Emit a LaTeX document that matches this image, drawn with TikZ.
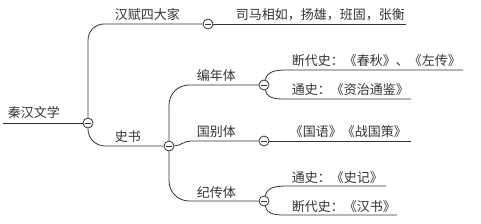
\documentclass[tikz,border=0pt]{standalone}
\usepackage{fontspec}
\setmainfont{Noto Sans CJK SC}
\usetikzlibrary{positioning,calc}
\definecolor{mapink}{HTML}{333333}
\tikzset{every picture/.append style={color=mapink}}

\begin{document}
\begin{tikzpicture}[
  x=1pt, y=-1pt,
  every path/.style={line width=0.8pt},
  fold/.style={draw, circle, line width=0.8pt, fill=white,
               minimum size=10pt, inner sep=0pt,
               path picture={\draw[line width=0.8pt]
                 ([xshift=-2.6pt]path picture bounding box.center) --
                 ([xshift=2.6pt]path picture bounding box.center);}},
  topic/.style={anchor=base west, inner sep=0pt,
                font=\fontsize{13}{15}\selectfont},
]
\useasboundingbox (0,0) rectangle (481,224);

% --- Root ---
\coordinate (rootL) at (3,123);
\node[fold] (root) at (88,123) {};
\node[topic] (tRoot) at (7.5,118) {秦汉文学};
\draw (rootL) -- (root.west);

% --- Branch: 汉赋四大家 ---
\node[fold] (fu) at (208,24) {};
\node[topic] (tFu) at (114.5,20) {汉赋四大家};
\draw[rounded corners=16pt] (root.north) |- (fu.west);
\coordinate (fuEnd) at (406,24);
\node[topic] (tFuLeaf) at (235.5,20) {司马相如，扬雄，班固，张衡};
\draw (fu.east) -- (fuEnd);

% --- Branch: 史书 ---
\node[fold] (shi) at (169,146) {};
\node[topic] (tShi) at (114.5,142) {史书};
\draw[rounded corners=17pt] (root.south) |- (shi.west);

% 编年体
\node[fold] (bian) at (264,85) {};
\node[topic] (tBian) at (196.5,81) {编年体};
\draw[rounded corners=20pt] (shi.north) |- (bian.west);
\coordinate (bianA) at (288,70);
\coordinate (bianAEnd) at (463,70);
\coordinate (bianB) at (288,99);
\coordinate (bianBEnd) at (411,99);
\node[topic] (tBianA) at (291.5,66) {断代史：《春秋》、《左传》};
\node[topic] (tBianB) at (291.5,95) {通史：《资治通鉴》};
\draw (bian.75) to[out=80,in=180] (bianA) -- (bianAEnd);
\draw (bian.-75) to[out=-80,in=180] (bianB) -- (bianBEnd);

% 国别体
\node[fold] (guo) at (264,141) {};
\node[topic] (tGuo) at (196.5,137) {国别体};
\coordinate (guoIn) at (191,141);
\draw (shi.east) to[out=5,in=180] (guoIn) -- (guo.west);
\coordinate (guoEnd) at (411,141);
\node[topic] (tGuoLeaf) at (289.5,137) {《国语》《战国策》};
\draw (guo.east) -- (guoEnd);

% 纪传体
\node[fold] (ji) at (264,201) {};
\node[topic] (tJi) at (196.5,197) {纪传体};
\draw[rounded corners=20pt] (shi.south) |- (ji.west);
\coordinate (jiA) at (288,186);
\coordinate (jiAEnd) at (386,186);
\coordinate (jiB) at (288,215);
\coordinate (jiBEnd) at (397,215);
\node[topic] (tJiA) at (291.5,182) {通史：《史记》};
\node[topic] (tJiB) at (291.5,211) {断代史：《汉书》};
\draw (ji.75) to[out=80,in=180] (jiA) -- (jiAEnd);
\draw (ji.-75) to[out=-80,in=180] (jiB) -- (jiBEnd);
\end{tikzpicture}
\end{document}
